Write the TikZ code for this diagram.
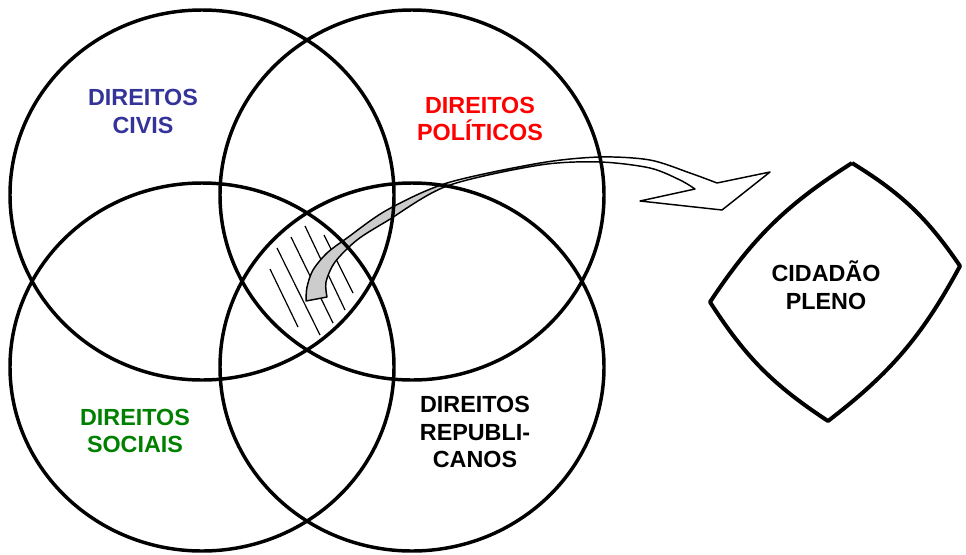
\documentclass[tikz,border=0pt]{standalone}
\usepackage{fontspec}
\setmainfont{Liberation Sans}
\usetikzlibrary{calc}
\definecolor{civblue}{HTML}{333399}
\definecolor{polred}{HTML}{FF0000}
\definecolor{socgreen}{HTML}{008000}
\definecolor{arrgray}{HTML}{CCCCCC}

\begin{document}
\begin{tikzpicture}[x=0.75pt, y=-0.75pt, line width=2.6pt,
  setlabel/.style={font=\fontsize{17.5}{20.8}\selectfont\bfseries, align=center, inner sep=0pt}]

% Canvas
\useasboundingbox (0,0) rectangle (966,554);

% --- Hatching of the common area ---
\foreach \xa/\ya/\xb/\yb in {270/269/298/327, 277/248/320/335, 291/237/333/323,
                             305/226/345/310, 324/235/353/293}
  \draw[line width=0.9pt] (\xa,\ya) -- (\xb,\yb);

% --- Block arrow ---
\begin{scope}
  \clip (0,0) rectangle (450,554);
  \fill[arrgray] plot[smooth] coordinates {(306,301) (307,287) (313,270) (327,253) (347,238) (387,210) (447,183) (540,163)}
    -- (540,165)
    -- plot[smooth] coordinates {(540,165) (447,186) (387,221) (357,240) (335,262) (326,282) (327,297)}
    -- cycle;
\end{scope}
\draw[line width=1.1pt, line join=round]
  plot[smooth] coordinates {(306,301) (307,287) (313,270) (327,253) (347,238) (387,210) (447,183) (540,163) (600,157) (650,160) (690,173) (717,183)}
  -- (770,172) -- (722,210) -- (640,201) -- (695,189)
  -- plot[smooth] coordinates {(695,189) (680,180) (650,168) (600,162) (540,165) (447,186) (387,221) (357,240) (335,262) (326,282) (327,297)}
  -- cycle;

% --- Sets ---
\draw (202,195) ellipse [x radius=144pt, y radius=138.75pt];
\draw (412,195) ellipse [x radius=144pt, y radius=138.75pt];
\draw (202,367) ellipse [x radius=144pt, y radius=138pt];
\draw (412,367) ellipse [x radius=144pt, y radius=138pt];

\node[setlabel, text=civblue] (civis) at (143,111.5) {DIREITOS\\CIVIS};
\node[setlabel, text=polred] (politicos) at (480,119) {DIREITOS\\POLÍTICOS};
\node[setlabel, text=socgreen] (sociais) at (135,431) {DIREITOS\\SOCIAIS};
\node[setlabel] (republicanos) at (475,432) {DIREITOS\\REPUBLI-\\CANOS};

% --- Result ---
\draw[line width=3pt, line join=round]
  (852,163) to[bend left=12] (960,266) to[bend left=12] (828,421)
  to[bend left=12] (710,302) to[bend left=12] (852,163);
\node[setlabel] (pleno) at (826,285) {CIDADÃO\\PLENO};

\end{tikzpicture}
\end{document}
